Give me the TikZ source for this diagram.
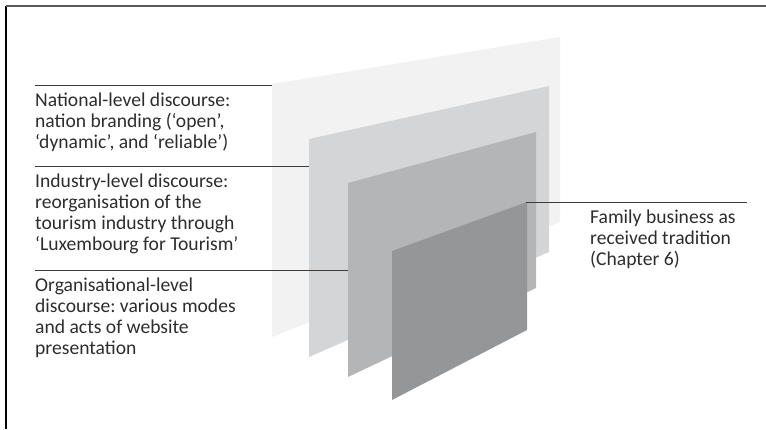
\documentclass[tikz,border=0pt]{standalone}
\usepackage{fontspec}
\setmainfont{Carlito}
\usepackage{xcolor}
\usetikzlibrary{positioning}
\definecolor{sheetnat}{RGB}{242, 242, 242}
\definecolor{sheetind}{RGB}{212, 213, 215}
\definecolor{sheetorg}{RGB}{180, 181, 183}
\definecolor{sheetfam}{RGB}{149, 150, 152}
\definecolor{leadgrey}{RGB}{60, 60, 60}
\definecolor{labeltext}{RGB}{45, 45, 45}
\frenchspacing

\begin{document}
\begin{tikzpicture}[
          x=1pt, y=-1pt,
          label/.style={inner sep=0pt, align=left, text=labeltext, font=\fontsize{19.6}{21}\selectfont},
          leader/.style={line width=1pt, draw=leadgrey}
        ]
          \useasboundingbox (0,0) rectangle (766,429);
          % Frame (top and left edge only)
          \draw[line width=1.3pt, black] (6,429) -- (6,6);
          \draw[line width=1.3pt, black!65] (6,6) -- (766,6);

          % Stacked sheets, back to front
          \fill[sheetnat] (272,84) -- (560,37) -- (560,222) -- (272,337) -- cycle;
          \fill[sheetind] (309,139) -- (549,86) -- (549,252) -- (309,357) -- cycle;
          \fill[sheetorg] (348,183) -- (536,132) -- (536,288) -- (348,377) -- cycle;
          \fill[sheetfam] (392,251) -- (527,202) -- (527,330) -- (392,400) -- cycle;

          % Leader ends
          \coordinate (natL) at (35,85);
          \coordinate (natR) at (272,85);
          \coordinate (indL) at (35,166);
          \coordinate (indR) at (309,166);
          \coordinate (orgL) at (35,270);
          \coordinate (orgR) at (348,270);
          \coordinate (famL) at (526,202);
          \coordinate (famR) at (747,202);

          \draw[leader] (natL) -- (natR);
          \draw[leader] (indL) -- (indR);
          \draw[leader] (orgL) -- (orgR);
          \draw[leader] (famL) -- (famR);

          % Labels
          \node[label, below right=8pt and 0pt of natL] (nat) {National-level discourse:\\nation branding (‘open’,\\‘dynamic’, and ‘reliable’)};
          \node[label, below right=8pt and 0pt of indL] (ind) {Industry-level discourse:\\reorganisation of the\\tourism industry through\\‘Luxembourg for Tourism’};
          \node[label, below right=8pt and 0pt of orgL] (org) {Organisational-level\\discourse: various modes\\and acts of website\\presentation};
          \node[label, below right=8pt and 64pt of famL] (fam) {Family business as\\received tradition\\(Chapter 6)};
        \end{tikzpicture}
\end{document}
